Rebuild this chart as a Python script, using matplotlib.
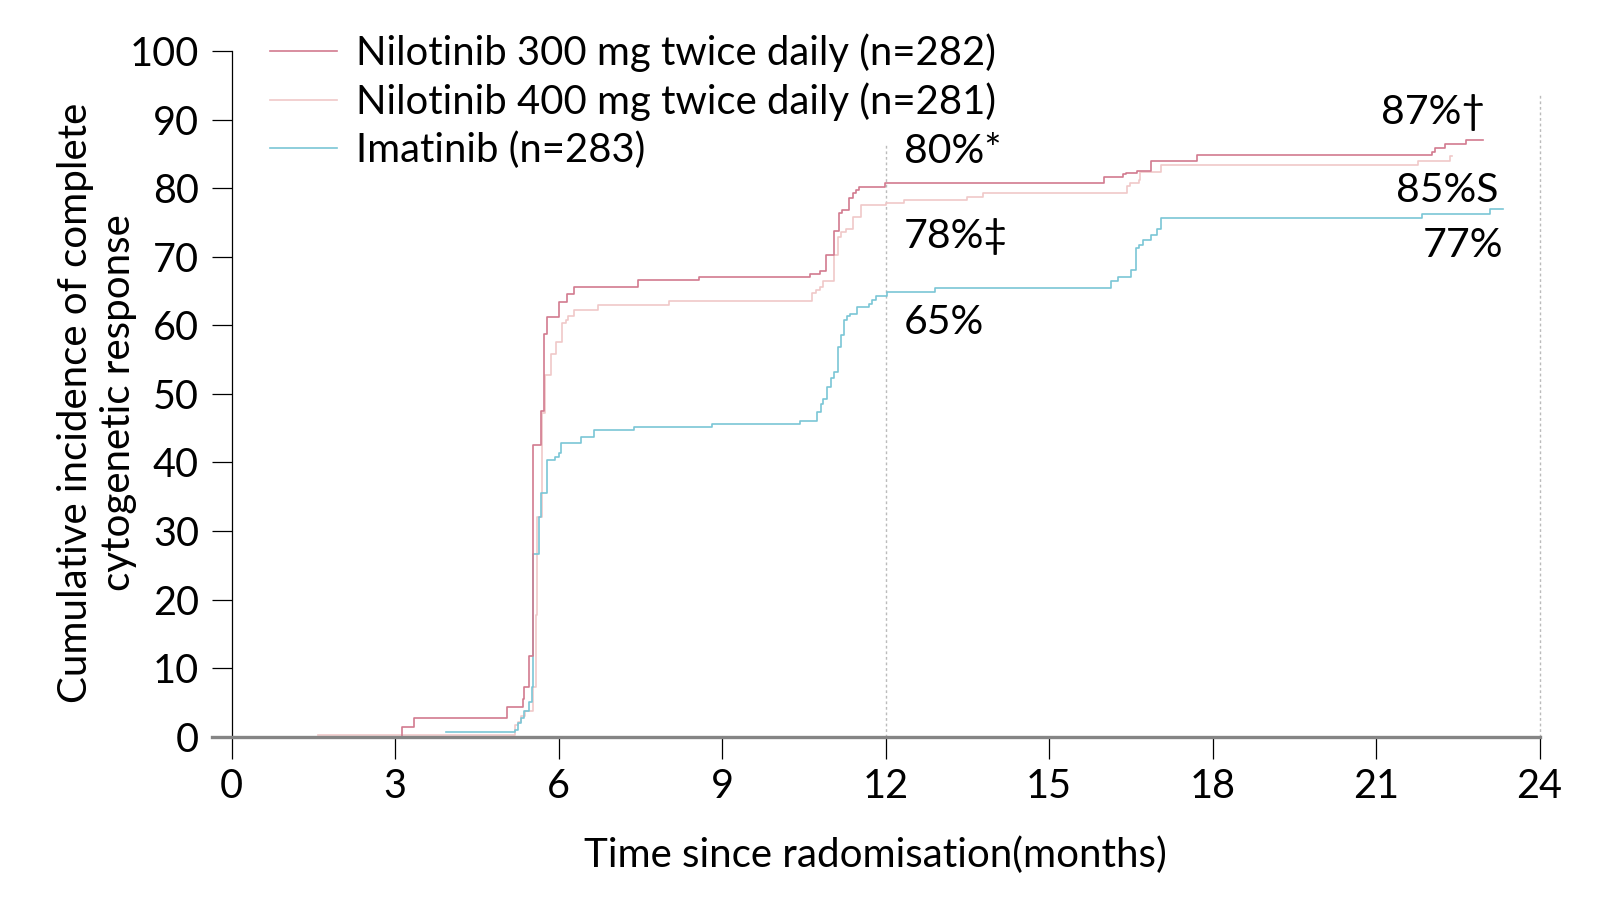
import matplotlib
matplotlib.use("Agg")
import matplotlib.pyplot as plt
from matplotlib import font_manager

# ---------------- data ----------------
series_names = ["Nilotinib 300 mg twice daily (n=282)",
                "Nilotinib 400 mg twice daily (n=281)",
                "Imatinib (n=283)"]

nil300_t = [1.59, 3.12, 3.35, 5.05, 5.34, 5.37, 5.46, 5.54, 5.68, 5.74, 5.79, 6.00, 6.15,
            6.28, 7.45, 8.57, 10.61, 10.79, 10.90, 11.05, 11.14, 11.20, 11.33, 11.40, 11.46,
            11.52, 11.99, 16.01, 16.36, 16.42, 16.62, 16.88, 17.72, 22.03, 22.09, 22.27,
            22.66, 22.97]
nil300_y = [0.0, 1.37, 2.68, 4.28, 5.45, 7.3, 11.8, 42.5, 47.5, 58.7, 61.2, 63.4, 64.5,
            65.6, 66.6, 67.1, 67.5, 67.9, 70.3, 73.7, 76.4, 76.8, 78.6, 79.3, 79.8,
            80.1, 80.7, 81.6, 82.0, 82.2, 82.5, 83.9, 84.8, 85.3, 85.9, 86.5,
            87.0, 87.0]

nil400_t = [1.59, 5.20, 5.25, 5.31, 5.39, 5.54, 5.58, 5.61, 5.70, 5.76, 5.87, 5.95, 6.06,
            6.13, 6.18, 6.28, 6.72, 8.03, 10.65, 10.72, 10.79, 10.86, 11.06, 11.12, 11.18,
            11.27, 11.41, 11.55, 12.00, 12.34, 13.49, 13.79, 16.44, 16.48, 16.66, 16.67,
            17.06, 21.77, 22.35, 22.39]
nil400_y = [0.3, 1.7, 2.2, 3.0, 3.7, 7.3, 17.7, 32.1, 47.2, 52.7, 55.8, 57.6, 60.4,
            60.8, 61.4, 62.2, 62.9, 63.6, 64.7, 65.2, 65.6, 66.4, 70.3, 72.9, 73.6,
            74.0, 75.8, 77.5, 77.8, 78.2, 78.7, 79.3, 80.3, 80.7, 81.2, 82.4,
            83.4, 83.9, 84.7, 84.7]

ima_t = [3.93, 5.20, 5.26, 5.31, 5.37, 5.45, 5.51, 5.53, 5.65, 5.68, 5.79, 5.94, 6.00,
         6.05, 6.41, 6.65, 7.39, 8.81, 10.43, 10.75, 10.81, 10.86, 10.92, 11.00, 11.05,
         11.12, 11.19, 11.23, 11.29, 11.35, 11.47, 11.70, 11.76, 11.83, 12.03, 12.90,
         16.14, 16.26, 16.51, 16.59, 16.66, 16.72, 16.88, 16.98, 17.06, 21.85, 23.10, 23.33]
ima_y = [0.64, 1.0, 1.95, 2.7, 3.8, 5.1, 7.3, 26.6, 32.1, 35.5, 40.4, 40.8, 41.4,
         42.8, 43.7, 44.7, 45.1, 45.6, 46.1, 47.4, 48.5, 49.3, 51.0, 52.3, 53.2,
         56.9, 58.6, 60.8, 61.3, 61.7, 62.7, 63.1, 63.7, 64.2, 64.9, 65.5,
         66.5, 67.0, 68.0, 71.2, 71.7, 72.5, 73.2, 74.0, 75.6, 76.3, 76.9, 76.9]

x_ticks = [0, 3, 6, 9, 12, 15, 18, 21, 24]
y_ticks = [0, 10, 20, 30, 40, 50, 60, 70, 80, 90, 100]

annot_left = [(12.34, 85.3, "80%*"), (12.34, 72.9, "78%\u2021"), (12.34, 60.4, "65%")]
annot_right = [(23.0, 91.0, "87%\u2020"), (23.24, 79.7, "85%S"), (23.33, 71.6, "77%")]

ref_lines = [(12, 86.3), (24, 93.7)]

colors = ["#d27a8f", "#f0c8c8", "#7ac6d6"]

# ---------------- font ----------------
names = {f.name for f in font_manager.fontManager.ttflist}
fam = "Liberation Sans Narrow" if "Liberation Sans Narrow" in names else "Lato"
plt.rcParams["font.family"] = [fam, "DejaVu Sans"]
FS = 29.5
FS_TICK = 28.5
FS_LEG = 28.8

fig = plt.figure(figsize=(16, 9), dpi=100)
ax = fig.add_axes([231.5 / 1600, 1 - 736.7 / 900, (1539.5 - 231.5) / 1600, (736.7 - 51) / 900])
ax.set_xlim(0, 24)
ax.set_ylim(0, 100)

for xv, top in ref_lines:
    ax.plot([xv, xv], [0, top], color="#bbbbbb", lw=1.0, ls=(0, (2, 2)), clip_on=False, zorder=1)

lines = []
for t, y, c, n in [(nil400_t, nil400_y, colors[1], series_names[1]),
                   (ima_t, ima_y, colors[2], series_names[2]),
                   (nil300_t, nil300_y, colors[0], series_names[0])]:
    ln, = ax.plot(t, y, drawstyle="steps-post", color=c, lw=1.2, label=n, zorder=3, clip_on=False)
    lines.append(ln)

ax.axhline(0, xmin=-20 / 1308, xmax=1.0, color="#858585", lw=2.4, clip_on=False, zorder=4)

for s in ["top", "right", "bottom"]:
    ax.spines[s].set_visible(False)
ax.spines["left"].set_color("black")
ax.spines["left"].set_linewidth(0.9)

ax.set_xticks(x_ticks)
ax.set_yticks(y_ticks)
ax.tick_params(axis="x", length=15.8, width=0.9, pad=7, labelsize=FS_TICK, colors="black")
ax.tick_params(axis="y", length=14.4, width=0.9, pad=9, labelsize=FS_TICK, colors="black")

for x, y, s in annot_left:
    ax.text(x, y, s, ha="left", va="center", fontsize=FS, clip_on=False)
for x, y, s in annot_right:
    ax.text(x, y, s, ha="right", va="center", fontsize=FS, clip_on=False)

handles = [lines[2], lines[0], lines[1]]
leg = ax.legend(handles, [h.get_label() for h in handles], loc="upper left",
                bbox_to_anchor=(270 / 1600, 1 - 33 / 900), bbox_transform=fig.transFigure,
                frameon=False, fontsize=FS_LEG, handlelength=67 / 40, handletextpad=19 / 40,
                labelspacing=0.26, borderpad=0, borderaxespad=0)

fig.text(97 / 1600, 1 - 403 / 900, "Cumulative incidence of complete\ncytogenetic response",
         rotation=90, ha="center", va="center", fontsize=FS - 0.5, linespacing=1.2)
fig.text(875.5 / 1600, 1 - 855 / 900, "Time since radomisation(months)",
         ha="center", va="center", fontsize=FS - 0.5)

fig.savefig("out.png", dpi=100)
